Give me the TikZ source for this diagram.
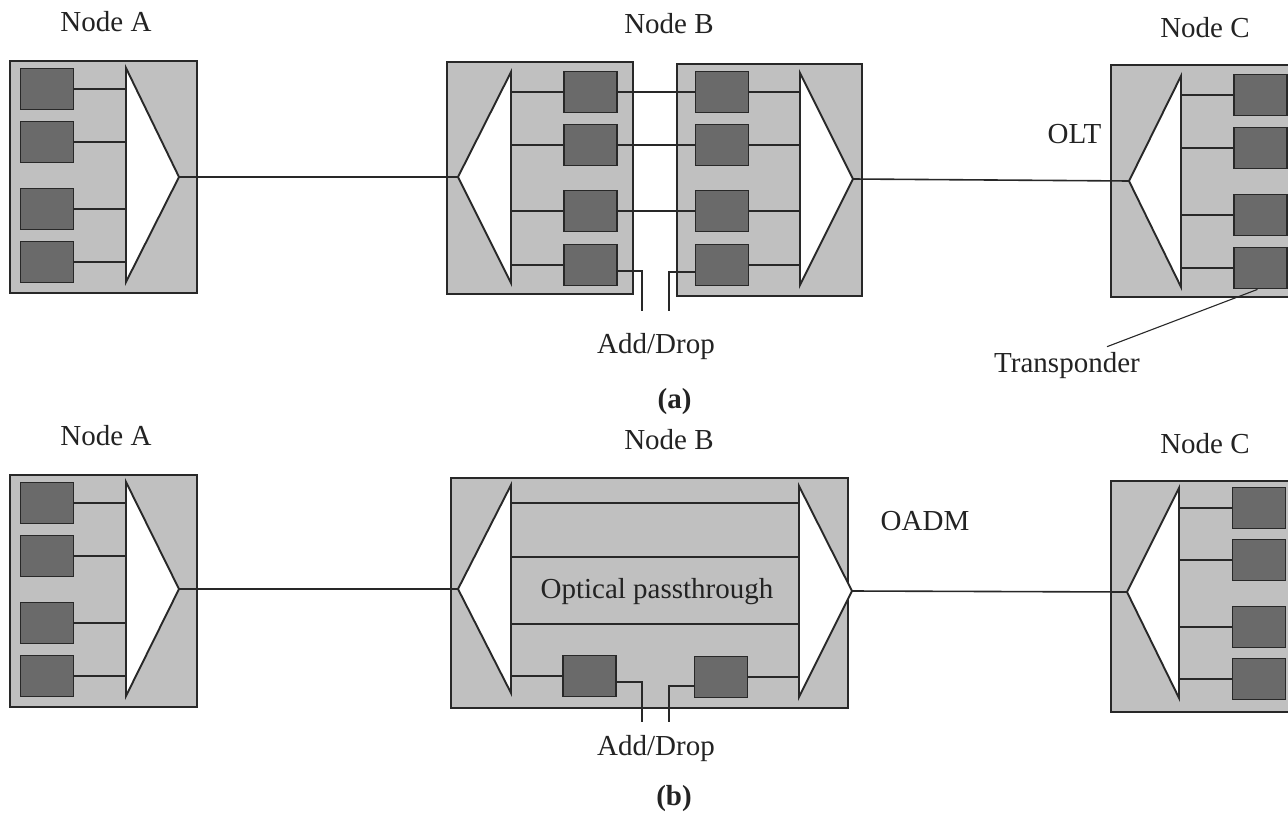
\documentclass[tikz,border=0pt]{standalone}
\usepackage{fontspec}
\setmainfont{Liberation Serif}
\definecolor{boxfill}{RGB}{192,192,192}
\definecolor{tpfill}{RGB}{106,106,106}
\definecolor{ink}{RGB}{40,40,40}
\definecolor{txt}{RGB}{35,35,35}
\begin{document}
\begin{tikzpicture}[x=1pt,y=-1pt,
  box/.style={draw=ink,fill=boxfill,line width=1.5pt,inner sep=0pt},
  tp/.style={draw=ink,fill=tpfill,line width=1.8pt,minimum width=53pt,minimum height=41pt,inner sep=0pt},
  tri/.style={draw=ink,fill=white,line width=1.9pt,line join=miter},
  wire/.style={draw=ink,line width=1.6pt},
  lbl/.style={text=txt,font=\fontsize{29}{34}\selectfont,inner sep=0pt,anchor=base},
]
\useasboundingbox (0,0) rectangle (1288,819);
\fill[white] (0,0) rectangle (1288,819);
\clip (0,0) rectangle (1288,819);

% ================= Panel (a) =================
% Node A
\node[box,minimum width=187pt,minimum height=232pt] (boxAa) at (103.5,177) {};
\foreach \n/\y in {1/89,2/142,3/209,4/262}{\node[tp] (a\n) at (47,\y) {};}
\coordinate (AaApex) at (179,177);
\coordinate (AaBase) at (126,0);
\foreach \n in {1,...,4}{\draw[wire] (a\n) -- (a\n -| AaBase);}
\draw[tri] (126,68) -- (AaApex) -- (126,282) -- cycle;

% Node B left
\node[box,minimum width=186pt,minimum height=232pt] (boxBaL) at (540,178) {};
\coordinate (BaLApex) at (458,177);
\coordinate (BaLBase) at (511,0);
\foreach \n/\y in {1/92,2/145,3/211,4/265}{\node[tp] (b\n) at (590.5,\y) {};}
\foreach \n in {1,...,4}{\draw[wire] (b\n) -- (b\n -| BaLBase);}
\draw[tri] (511,72) -- (BaLApex) -- (511,283) -- cycle;

% Node B right
\node[box,minimum width=185pt,minimum height=232pt] (boxBaR) at (769.5,180) {};
\coordinate (BaRApex) at (853,179);
\coordinate (BaRBase) at (800,0);
\foreach \n/\y in {5/92,6/145,7/211,8/265}{\node[tp] (b\n) at (722,\y) {};}
\foreach \n in {5,...,8}{\draw[wire] (b\n) -- (b\n -| BaRBase);}
\draw[tri] (800,73) -- (BaRApex) -- (800,285) -- cycle;
\draw[wire] (b1) -- (b5);
\draw[wire] (b2) -- (b6);
\draw[wire] (b3) -- (b7);

% Add/Drop (a)
\coordinate (adLa) at (642,311);
\coordinate (adRa) at (669,311);
\draw[wire] ([yshift=-6pt]b4.east) -| (adLa);
\draw[wire] ([yshift=-7pt]b8.west) -| (adRa);

% Node C
\node[box,minimum width=189pt,minimum height=232pt] (boxCa) at (1205.5,181) {};
\coordinate (CaApex) at (1129,181);
\coordinate (CaBase) at (1181,0);
\foreach \n/\y in {1/95,2/148,3/215,4/268}{\node[tp] (c\n) at (1260.5,\y) {};}
\foreach \n in {1,...,4}{\draw[wire] (c\n) -- (c\n -| CaBase);}
\draw[tri] (1181,76) -- (CaApex) -- (1181,287) -- cycle;

% links (a)
\draw[wire] (AaApex) -- (BaLApex);
\draw[wire] (BaRApex) -- (CaApex);

% labels (a)
\node[lbl] (lAa) at (106,31) {Node A};
\node[lbl] (lBa) at (669,33) {Node B};
\node[lbl] (lCa) at (1205,37) {Node C};
\node[lbl] (lOLT) at (1074.5,143) {OLT};
\node[lbl] (lADa) at (656,353) {Add/Drop};
\node[lbl,font=\fontsize{29}{34}\selectfont\bfseries] (lPa) at (674.5,408) {(a)};
\node[lbl] (lTP) at (1067,372) {Transponder};
\draw[draw=ink,line width=1.1pt] ([xshift=-3pt]c4.south) -- ([xshift=40pt,yshift=5pt]lTP.north);

% ================= Panel (b) =================
% Node A
\node[box,minimum width=187pt,minimum height=232pt] (boxAb) at (103.5,591) {};
\foreach \n/\y in {1/503,2/556,3/623,4/676}{\node[tp] (d\n) at (47,\y) {};}
\coordinate (AbApex) at (179,589);
\coordinate (AbBase) at (126,0);
\foreach \n in {1,...,4}{\draw[wire] (d\n) -- (d\n -| AbBase);}
\draw[tri] (126,482) -- (AbApex) -- (126,696) -- cycle;

% Node B (OADM)
\node[box,minimum width=397pt,minimum height=230pt] (boxBb) at (649.5,593) {};
\coordinate (BbLApex) at (458,589);
\coordinate (BbRApex) at (852,591);
\coordinate (BbLBase) at (511,0);
\coordinate (BbRBase) at (799,0);
\foreach \y in {503,557,624}{\draw[wire] (511,\y) -- (799,\y);}
\node[tp] (eL) at (589.5,676) {};
\node[tp] (eR) at (721,677) {};
\draw[wire] (eL) -- (eL -| BbLBase);
\draw[wire] (eR) -- (eR -| BbRBase);
\draw[tri] (511,485) -- (BbLApex) -- (511,693) -- cycle;
\draw[tri] (799,486) -- (BbRApex) -- (799,697) -- cycle;
\coordinate (adLb) at (642,722);
\coordinate (adRb) at (669,722);
\draw[wire] ([yshift=-6pt]eL.east) -| (adLb);
\draw[wire] ([yshift=-9pt]eR.west) -| (adRb);

% Node C
\node[box,minimum width=189pt,minimum height=231pt] (boxCb) at (1205.5,596.5) {};
\coordinate (CbApex) at (1127,592);
\coordinate (CbBase) at (1179,0);
\foreach \n/\y in {1/508,2/560,3/627,4/679}{\node[tp] (f\n) at (1259,\y) {};}
\foreach \n in {1,...,4}{\draw[wire] (f\n) -- (f\n -| CbBase);}
\draw[tri] (1179,488) -- (CbApex) -- (1179,698) -- cycle;

% links (b)
\draw[wire] (AbApex) -- (BbLApex);
\draw[wire] (BbRApex) -- (CbApex);

% labels (b)
\node[lbl] (lAb) at (106,445) {Node A};
\node[lbl] (lBb) at (669,449) {Node B};
\node[lbl] (lCb) at (1205,453) {Node C};
\node[lbl] (lOADM) at (925,530) {OADM};
\node[lbl] (lOPT) at (657,598) {Optical passthrough};
\node[lbl] (lADb) at (656,755) {Add/Drop};
\node[lbl,font=\fontsize{29}{34}\selectfont\bfseries] (lPb) at (674,805) {(b)};
\end{tikzpicture}
\end{document}
